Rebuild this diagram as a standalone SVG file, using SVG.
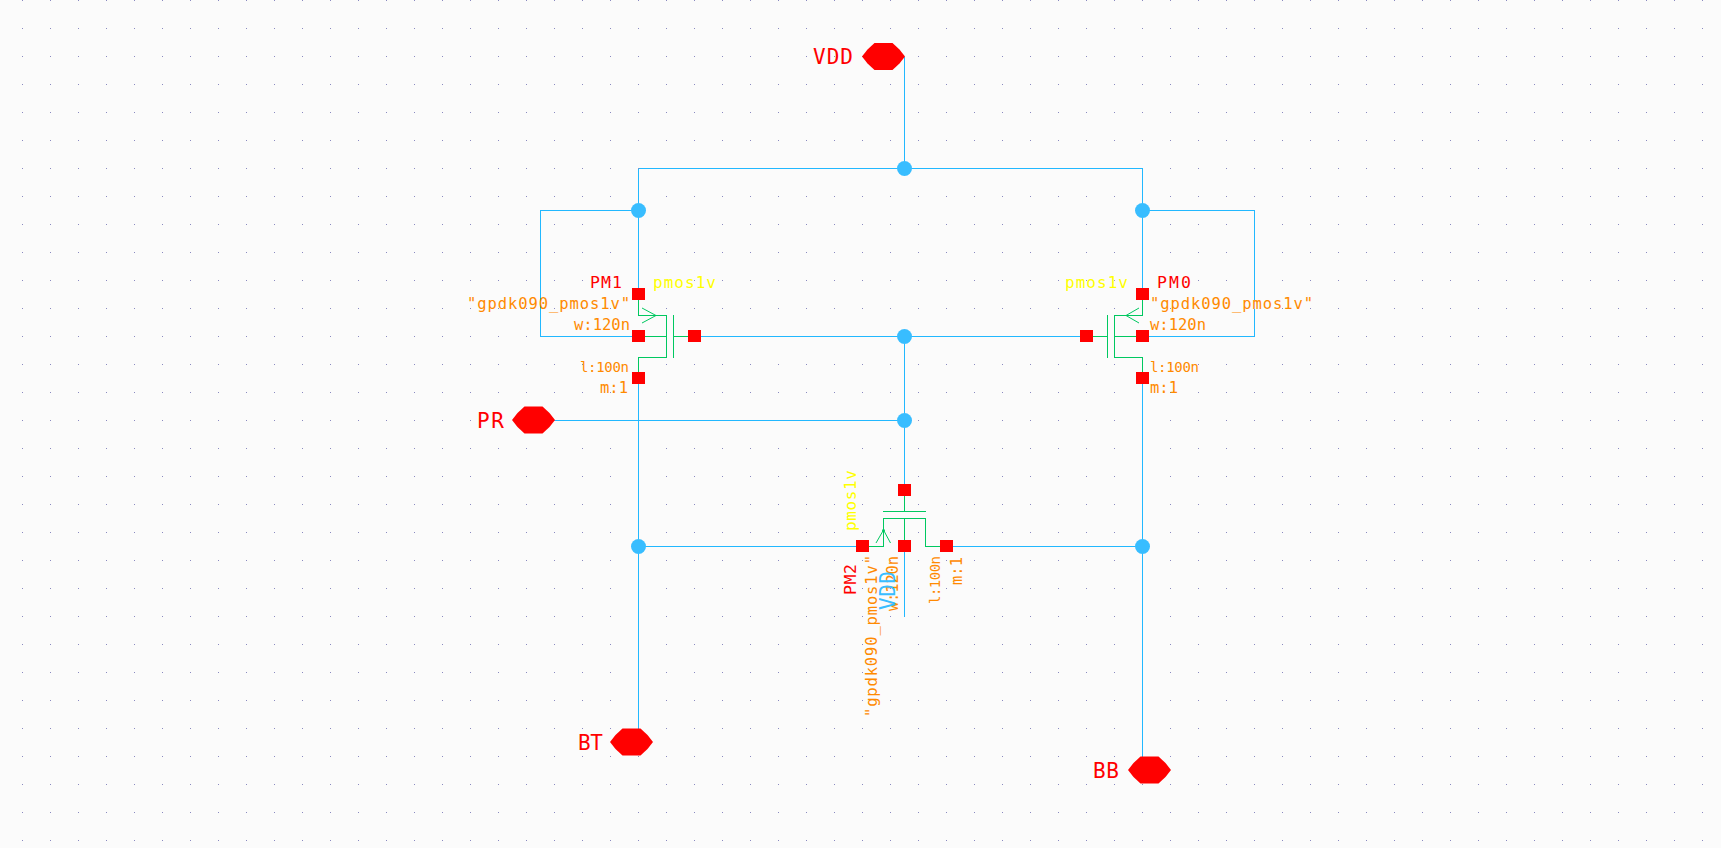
<svg xmlns="http://www.w3.org/2000/svg" width="1721" height="848" viewBox="0 0 1721 848">
<style>
.w{fill:none;stroke:#22b8ff;stroke-width:1;shape-rendering:crispEdges}
.g{fill:none;stroke:#00c860;stroke-width:1}
.gc{shape-rendering:crispEdges}
.d{fill:#38bdff}
.t{fill:#ff0000;shape-rendering:crispEdges}
.p{fill:#ff0000}
text{font-family:"DejaVu Sans Mono","Liberation Mono",monospace;white-space:pre}
.o{fill:#ff8a00;font-size:15.5px}
.s{font-size:14px}
.y{fill:#ffff00;font-size:16px}
.r{fill:#ff0000;font-size:16.5px}
.l{fill:#ff0000;font-size:21px}
.b{fill:#38bdff;font-size:21px}
</style>
<defs>
<pattern id="grid" x="22" y="0" width="28" height="28" patternUnits="userSpaceOnUse"><rect width="1" height="1" fill="#8a8ac0"/></pattern>
<polygon id="pin" points="-21.5,0 -16,-7 -9,-13.5 9,-13.5 16,-7 21.5,0 16,7 9,13.5 -9,13.5 -16,7"/>
<rect id="term" x="-6.5" y="-6" width="13" height="12"/>
</defs>
<rect width="1721" height="848" fill="#fbfbfb"/>
<rect width="1721" height="848" fill="url(#grid)"/>
<g id="connectors">
<path class="w" d="M904.5 57V168.5M638.5 168.5H1142.5M638.5 168.5V288M1142.5 168.5V288M638.5 210.5H540.5V336.5H632M1142.5 210.5H1254.5V336.5H1148"/>
<path class="w" d="M701 336.5H1080M904.5 336.5V484M555 420.5H904.5M638.5 384V729M1142.5 384V757M639 546.5H856M952 546.5H1142.5M904.5 552V617"/>
<circle class="d" cx="904.5" cy="168.5" r="7.5"/>
<circle class="d" cx="638.5" cy="210.5" r="7.5"/>
<circle class="d" cx="1142.5" cy="210.5" r="7.5"/>
<circle class="d" cx="904.5" cy="336.5" r="7.5"/>
<circle class="d" cx="904.5" cy="420.5" r="7.5"/>
<circle class="d" cx="638.5" cy="546.5" r="7.5"/>
<circle class="d" cx="1142.5" cy="546.5" r="7.5"/>
</g>
<g id="VDD"><use href="#pin" class="p" x="883.5" y="56.5"/><text class="l" x="813" y="64" textLength="40">VDD</text></g>
<g id="PR"><use href="#pin" class="p" x="533.5" y="420"/><text class="l" x="477" y="428" textLength="27">PR</text></g>
<g id="BT"><use href="#pin" class="p" x="631.5" y="742"/><text class="l" x="578" y="750" textLength="25">BT</text></g>
<g id="BB"><use href="#pin" class="p" x="1149.5" y="770"/><text class="l" x="1093" y="778" textLength="26">BB</text></g>
<g id="PM1">
<path class="g gc" d="M638.5 300V315.5H666.5V357.5H638.5V372M645 336.5H666.5M673.5 315V358M673.5 336.5H688"/>
<path class="g" d="M642 308L656 315.5L642 323"/>
<use href="#term" class="t" x="638.5" y="294"/><use href="#term" class="t" x="638.5" y="336"/><use href="#term" class="t" x="638.5" y="378"/><use href="#term" class="t" x="694.5" y="336"/>
<text class="r" x="590" y="288" textLength="32">PM1</text><text class="y" x="653" y="288" textLength="63">pmos1v</text>
<text class="o" x="467" y="309" textLength="163">"gpdk090_pmos1v"</text><text class="o" x="574" y="330" textLength="56">w:120n</text><text class="o s" x="580" y="372" textLength="49">l:100n</text><text class="o" x="600" y="393" textLength="28">m:1</text>
</g>
<g id="PM0">
<path class="g gc" d="M1142.5 300V315.5H1114.5V357.5H1142.5V372M1136 336.5H1114.5M1107.5 315V358M1107.5 336.5H1092"/>
<path class="g" d="M1139 308L1126 315.5L1139 323"/>
<use href="#term" class="t" x="1142.5" y="294"/><use href="#term" class="t" x="1142.5" y="336"/><use href="#term" class="t" x="1142.5" y="378"/><use href="#term" class="t" x="1086" y="336"/>
<text class="r" x="1157" y="288" textLength="34">PM0</text><text class="y" x="1065" y="288" textLength="63">pmos1v</text>
<text class="o" x="1150" y="309" textLength="163">"gpdk090_pmos1v"</text><text class="o" x="1150" y="330" textLength="56">w:120n</text><text class="o s" x="1150" y="372" textLength="49">l:100n</text><text class="o" x="1150" y="393" textLength="28">m:1</text>
</g>
<g id="PM2">
<path class="g gc" d="M904.5 496V511.5M883 511.5H926M868 546.5H883.5V518.5H925.5V546.5H940M904.5 518.5V540"/>
<path class="g" d="M876 543L883.5 530L890.5 543"/>
<circle cx="883.5" cy="530.5" r="1.5" fill="#00c860"/>
<use href="#term" class="t" x="904.5" y="490"/><use href="#term" class="t" x="862" y="546"/><use href="#term" class="t" x="904.5" y="546"/><use href="#term" class="t" x="946" y="546"/>
<text class="y" transform="translate(856 531) rotate(-90)" textLength="61">pmos1v</text>
<text class="r" transform="translate(856 595) rotate(-90)" textLength="31">PM2</text>
<text class="o" transform="translate(877 717) rotate(-90)" textLength="162">"gpdk090_pmos1v"</text>
<text class="o" transform="translate(898 611) rotate(-90)" textLength="55">w:120n</text>
<text class="o s" transform="translate(940 604) rotate(-90)" textLength="48">l:100n</text>
<text class="o" transform="translate(962 585) rotate(-90)" textLength="28">m:1</text>
<text class="b" transform="translate(895 610) rotate(-90)" textLength="39">VDD</text>
</g>
</svg>
